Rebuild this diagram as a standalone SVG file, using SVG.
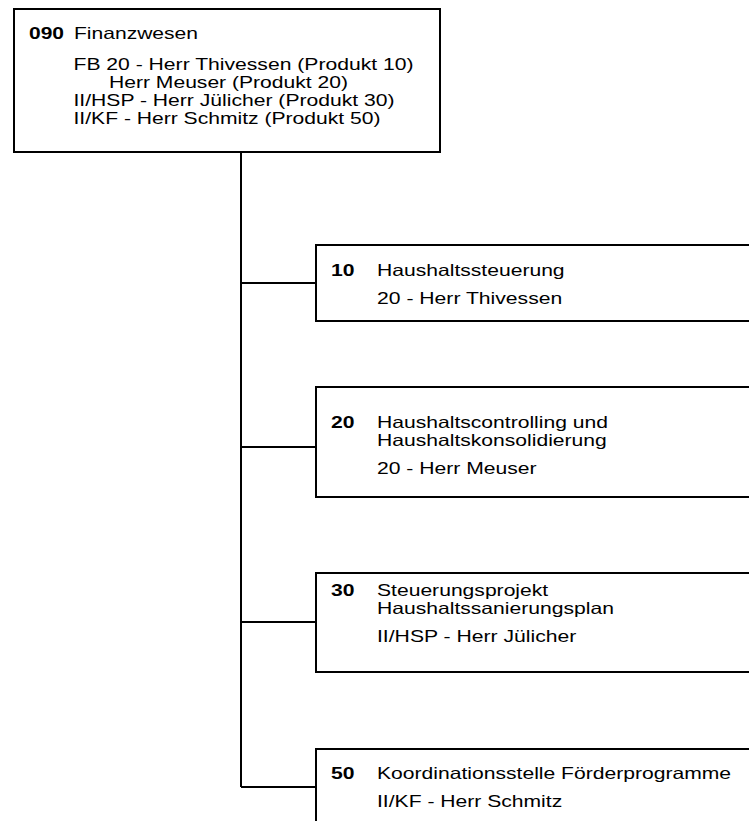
<svg xmlns="http://www.w3.org/2000/svg" width="749" height="821" viewBox="0 0 749 821">
<style>
.box{fill:#fff;stroke:#000;stroke-width:2}
.ln{fill:none;stroke:#000;stroke-width:2}
text{font-family:"Liberation Sans",Arial,sans-serif;font-size:16.5px;fill:#000}
.b{font-weight:bold}
</style>
<rect width="749" height="821" fill="#fff"/>
<g id="connectors">
<path class="ln" d="M241 153 V787"/>
<path class="ln" d="M241 283 H316"/>
<path class="ln" d="M241 447 H316"/>
<path class="ln" d="M241 622 H316"/>
<path class="ln" d="M241 787 H316"/>
</g>
<g id="n090">
<rect class="box" x="14" y="9" width="426" height="143"/>
<text class="b" x="29" y="39" textLength="35" lengthAdjust="spacingAndGlyphs">090</text>
<text x="74" y="39" textLength="124" lengthAdjust="spacingAndGlyphs">Finanzwesen</text>
<text x="73.5" y="70" textLength="340" lengthAdjust="spacingAndGlyphs">FB 20 - Herr Thivessen (Produkt 10)</text>
<text x="109" y="88" textLength="239" lengthAdjust="spacingAndGlyphs">Herr Meuser (Produkt 20)</text>
<text x="73.5" y="106" textLength="321" lengthAdjust="spacingAndGlyphs">II/HSP - Herr Jülicher (Produkt 30)</text>
<text x="73.5" y="124" textLength="307" lengthAdjust="spacingAndGlyphs">II/KF - Herr Schmitz (Produkt 50)</text>
</g>
<g id="n10">
<rect class="box" x="316" y="245" width="450" height="76"/>
<text class="b" x="331" y="276" textLength="23.5" lengthAdjust="spacingAndGlyphs">10</text>
<text x="377" y="276" textLength="187.6" lengthAdjust="spacingAndGlyphs">Haushaltssteuerung</text>
<text x="377" y="304" textLength="185.3" lengthAdjust="spacingAndGlyphs">20 - Herr Thivessen</text>
</g>
<g id="n20">
<rect class="box" x="316" y="387" width="450" height="110"/>
<text class="b" x="331" y="428" textLength="23.5" lengthAdjust="spacingAndGlyphs">20</text>
<text x="377" y="428" textLength="231" lengthAdjust="spacingAndGlyphs">Haushaltscontrolling und</text>
<text x="377" y="446" textLength="229.8" lengthAdjust="spacingAndGlyphs">Haushaltskonsolidierung</text>
<text x="377" y="474" textLength="159.5" lengthAdjust="spacingAndGlyphs">20 - Herr Meuser</text>
</g>
<g id="n30">
<rect class="box" x="316" y="573" width="450" height="99"/>
<text class="b" x="331" y="596" textLength="23.5" lengthAdjust="spacingAndGlyphs">30</text>
<text x="377" y="596" textLength="171.2" lengthAdjust="spacingAndGlyphs">Steuerungsprojekt</text>
<text x="377" y="614" textLength="236.9" lengthAdjust="spacingAndGlyphs">Haushaltssanierungsplan</text>
<text x="377" y="642" textLength="199.3" lengthAdjust="spacingAndGlyphs">II/HSP - Herr Jülicher</text>
</g>
<g id="n50">
<rect class="box" x="316" y="749" width="450" height="90"/>
<text class="b" x="331" y="779" textLength="23.5" lengthAdjust="spacingAndGlyphs">50</text>
<text x="377" y="779" textLength="354.1" lengthAdjust="spacingAndGlyphs">Koordinationsstelle Förderprogramme</text>
<text x="377" y="807" textLength="185.2" lengthAdjust="spacingAndGlyphs">II/KF - Herr Schmitz</text>
</g>
</svg>
